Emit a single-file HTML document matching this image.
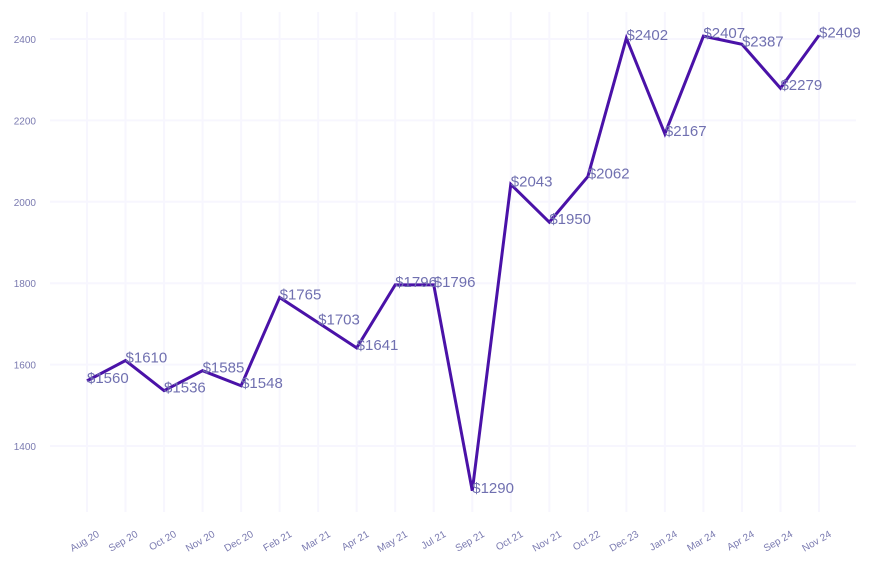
<!DOCTYPE html>
<html><head><meta charset="utf-8"><style>body{margin:0;background:#fff}svg{display:block;font-family:"Liberation Sans",sans-serif}</style></head>
<body>
<svg id="chart" width="873" height="565" viewBox="0 0 873 565" xmlns="http://www.w3.org/2000/svg"></svg>
<script>
const categories=["Aug 20","Sep 20","Oct 20","Nov 20","Dec 20","Feb 21","Mar 21","Apr 21","May 21","Jul 21","Sep 21","Oct 21","Nov 21","Oct 22","Dec 23","Jan 24","Mar 24","Apr 24","Sep 24","Nov 24"];
const values=[1560,1610,1536,1585,1548,1765,1703,1641,1796,1796,1290,2043,1950,2062,2402,2167,2407,2387,2279,2409];
const yTicks=[1400,1600,1800,2000,2200,2400];
const NS="http://www.w3.org/2000/svg";
const svg=document.getElementById('chart');
const x=i=>87+i*(819-87)/(categories.length-1);
const y=v=>39+(2400-v)*0.407;
function mk(t,a,p){const e=document.createElementNS(NS,t);for(const k in a)e.setAttribute(k,a[k]);(p||svg).appendChild(e);return e;}
const grid=mk('g',{});


yTicks.forEach(v=>{
  const l=mk('line',{x1:50,x2:856,y1:y(v),y2:y(v),stroke:'#f7f6fe','stroke-width':2},grid);
  
  
  const t=mk('text',{x:36,y:y(v)+4,'text-anchor':'end','font-size':10,fill:'#7a7ab0'});
  t.textContent=v;
  
  
});
categories.forEach((c,i)=>{
  const l=mk('line',{x1:x(i),x2:x(i),y1:12,y2:512,stroke:'#f7f6fe','stroke-width':2},grid);
  
  
  const t=mk('text',{x:x(i)+13,y:536,'text-anchor':'end','font-size':10,fill:'#7a7ab0',transform:`rotate(-30 ${x(i)+13} 536)`});
  t.textContent=c;
  
  
});
const pl=mk('polyline',{points:values.map((v,i)=>x(i)+','+y(v)).join(' '),fill:'none',stroke:'#4a12a8','stroke-width':3,'stroke-linejoin':'miter'});


values.forEach((v,i)=>{
  const t=mk('text',{x:x(i),y:y(v)+2,'font-size':15,fill:'#7070b0'});
  t.textContent='$'+v;
  
  
});
</script>
</body></html>
